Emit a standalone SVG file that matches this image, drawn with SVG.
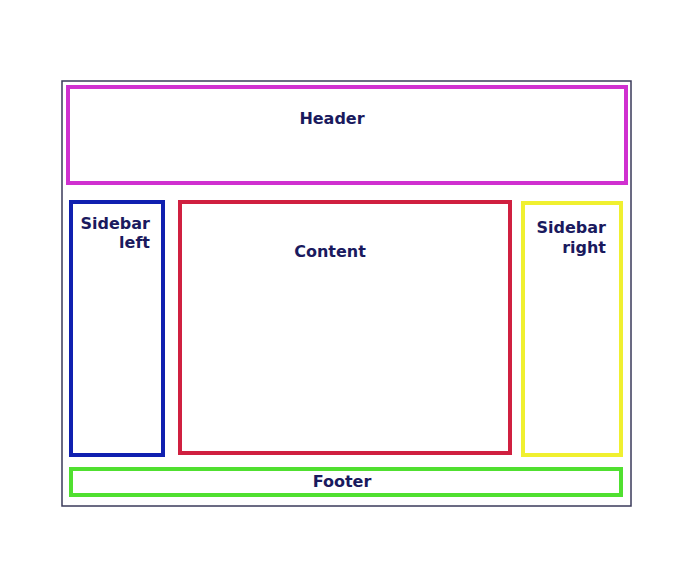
<svg xmlns="http://www.w3.org/2000/svg" width="700" height="564" viewBox="0 0 700 564">
<style>
.b{fill:none;stroke-width:4}
text{font-family:"DejaVu Sans",sans-serif;font-weight:bold;font-size:16px;fill:#1a1a5e}
</style>
<rect width="700" height="564" fill="#fff"/>
<rect x="62" y="81" width="569" height="425" fill="none" stroke="#3a3a5a" stroke-width="1.5"/>
<g id="header"><rect class="b" x="68" y="87" width="558" height="96" stroke="#d030d0"/><text x="332" y="124" text-anchor="middle">Header</text></g>
<g id="sidebar-left"><rect class="b" x="71" y="202" width="92" height="253" stroke="#1020b0"/><text x="150" y="229" text-anchor="end">Sidebar</text><text x="150" y="248" text-anchor="end">left</text></g>
<g id="content"><rect class="b" x="180" y="202" width="330" height="251" stroke="#d02040"/><text x="330" y="257" text-anchor="middle">Content</text></g>
<g id="sidebar-right"><rect class="b" x="523" y="203" width="98" height="252" stroke="#f0f030"/><text x="606" y="233" text-anchor="end">Sidebar</text><text x="606" y="253" text-anchor="end">right</text></g>
<g id="footer"><rect class="b" x="71" y="469" width="550" height="26" stroke="#50e030"/><text x="342" y="487" text-anchor="middle">Footer</text></g>
<g id="connectors"/>
</svg>
